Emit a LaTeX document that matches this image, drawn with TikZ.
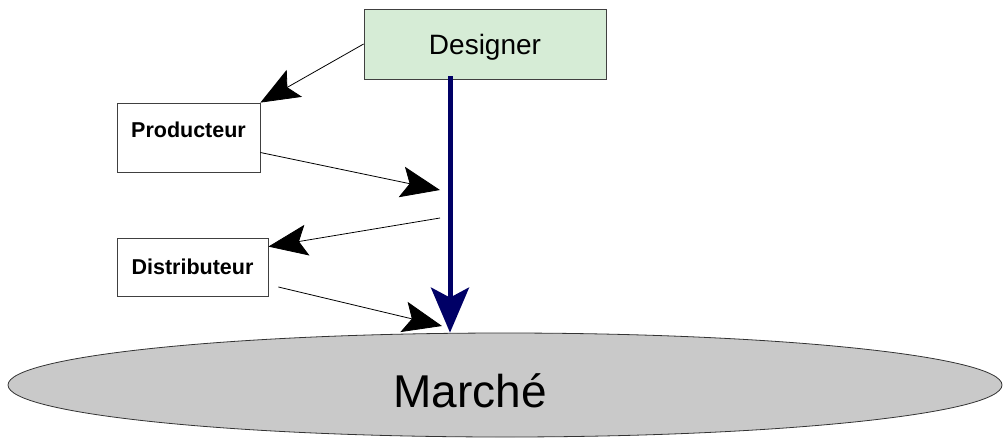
\documentclass[tikz,border=0pt]{standalone}
\usepackage{fontspec}
\setmainfont{Liberation Sans}
\usepackage{tikz}
\usetikzlibrary{arrows.meta}
\usetikzlibrary{shapes.geometric}
\definecolor{designergreen}{HTML}{D6ECD6}
\definecolor{marchegray}{HTML}{C9C9C9}
\definecolor{designernavy}{HTML}{000066}
\tikzset{
  acteur/.style={draw=black!75, line width=0.8pt, fill=white, inner sep=0pt,
                 font=\bfseries\fontsize{21.5}{24}\selectfont},
  flux/.style={line width=0.8pt, -{Stealth[length=39pt,width=31pt,inset=8pt]}},
  influence/.style={designernavy, line width=5pt,
                    -{Stealth[length=45pt,width=38pt,inset=10pt]}}
}

\begin{document}
\begin{tikzpicture}[x=1pt,y=-1pt]
\useasboundingbox (0,0) rectangle (1003,437);
\node (marche) [ellipse, draw=black!80, line width=0.8pt, fill=marchegray,
                minimum width=994pt, minimum height=104pt,
                label={[font=\fontsize{46}{50}\selectfont, xshift=-35pt, yshift=-6pt]center:Marché}]
      at (505,385) {};
\node (designer) [draw=black!75, line width=0.8pt, fill=designergreen, inner sep=0pt,
                  minimum width=242pt, minimum height=70pt, text depth=0pt,
                  font=\fontsize{28}{30}\selectfont]
      at (485,44) {Designer};
\node (producteur) [acteur, minimum width=143pt, minimum height=69pt,
                    text height=16pt, text depth=17pt]
      at (188.5,137.5) {Producteur};
\node (distributeur) [acteur, minimum width=151pt, minimum height=58pt]
      at (192.5,267) {Distributeur};
\coordinate (vers designer) at (440,190);
\coordinate (depuis designer) at (440,218);
\coordinate (vers marche) at (442,326);
\path[flux]
  (designer.west) edge (producteur.north east)
  ([yshift=-15pt]producteur.east) edge (vers designer)
  (depuis designer) edge ([yshift=-9pt]distributeur.north east)
  ([xshift=10pt,yshift=-20pt]distributeur.east) edge (vers marche)
  ;
\draw[influence] ([xshift=-35pt,yshift=3pt]designer.south)
  -- ([xshift=-35pt]designer.south |- marche.north);
\end{tikzpicture}
\end{document}
